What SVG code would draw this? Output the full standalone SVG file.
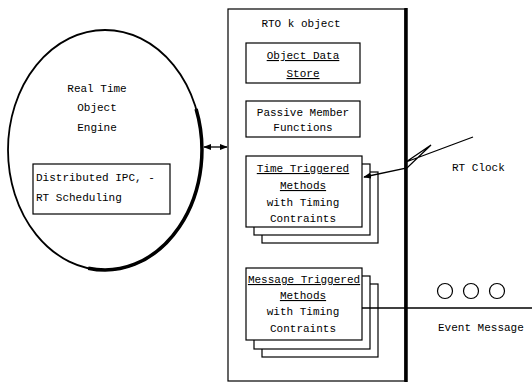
<svg xmlns="http://www.w3.org/2000/svg" width="532" height="382" viewBox="0 0 532 382">
<style>
.t{font-family:"Liberation Mono","DejaVu Sans Mono",monospace;font-size:11px;fill:#000}
.c{text-anchor:middle}
.u{text-decoration:underline}
.box{fill:#fff;stroke:#000;stroke-width:1.2}
.ln{fill:none;stroke:#000;stroke-width:1.3}
</style>
<defs>
<marker id="ah" viewBox="0 0 10 10" refX="9" refY="5" markerWidth="6" markerHeight="6" orient="auto-start-reverse">
<path d="M0,1 L10,5 L0,9 z" fill="#000"/>
</marker>
</defs>
<rect width="532" height="382" fill="#fff"/>

<g id="engine">
<ellipse cx="105" cy="150" rx="97" ry="120" fill="#fff" stroke="#000" stroke-width="1.8"/>
<path d="M196.1,109 A97,120 0 0 1 88.2,268.2" fill="none" stroke="#000" stroke-width="3.5"/>
<text class="t c" x="97" y="92" font-size="12">Real Time</text>
<text class="t c" x="97" y="111" font-size="12">Object</text>
<text class="t c" x="97" y="131" font-size="12">Engine</text>
</g>

<g id="ipc">
<rect class="box" x="33" y="164" width="137" height="50"/>
<text class="t" x="36" y="181" font-size="10.5">Distributed IPC, -</text>
<text class="t" x="36" y="201" font-size="10.5">RT Scheduling</text>
</g>

<g id="rtok">
<rect x="228" y="9" width="177" height="372" fill="none" stroke="#000" stroke-width="1.2"/>
<line x1="406" y1="8" x2="406" y2="382" stroke="#000" stroke-width="3.5"/>
<text class="t c" x="301" y="27">RTO k object</text>
</g>

<g id="datastore">
<rect class="box" x="246" y="43" width="114" height="40"/>
<text class="t c u" x="303" y="59">Object Data</text>
<text class="t c u" x="303" y="77">Store</text>
</g>

<g id="passive">
<rect class="box" x="246" y="101" width="114" height="36"/>
<text class="t c" x="303" y="116">Passive Member</text>
<text class="t c" x="303" y="131">Functions</text>
</g>

<g id="time-triggered">
<rect class="box" x="262" y="172" width="116" height="71"/>
<rect class="box" x="254" y="164" width="116" height="71"/>
<rect class="box" x="246" y="156" width="116" height="71"/>
<text class="t c u" x="303" y="172">Time Triggered</text>
<text class="t c u" x="303" y="189">Methods</text>
<text class="t c" x="303" y="206">with Timing</text>
<text class="t c" x="303" y="222">Contraints</text>
</g>

<g id="message-triggered">
<rect class="box" x="262" y="284" width="116" height="73"/>
<rect class="box" x="254" y="276" width="116" height="73"/>
<rect class="box" x="246" y="268" width="116" height="72"/>
<text class="t c u" x="304" y="283" font-size="10.5">Message Triggered</text>
<text class="t c u" x="303" y="299">Methods</text>
<text class="t c" x="303" y="315">with Timing</text>
<text class="t c" x="303" y="332">Contraints</text>
</g>

<g id="rt-clock">
<text class="t" x="452" y="171">RT Clock</text>
</g>

<g id="event-message">
<circle cx="445" cy="291" r="7.5" fill="#fff" stroke="#000" stroke-width="1.2"/>
<circle cx="471" cy="291" r="7.5" fill="#fff" stroke="#000" stroke-width="1.2"/>
<circle cx="497" cy="291" r="7.5" fill="#fff" stroke="#000" stroke-width="1.2"/>
<text class="t" x="438" y="331">Event Message</text>
</g>

<g id="connectors">
<line class="ln" x1="204" y1="147" x2="227" y2="147" marker-start="url(#ah)" marker-end="url(#ah)"/>
<path class="ln" d="M473,137 L406,162 L431,145 L407,168 L364,177" marker-end="url(#ah)"/>
<line class="ln" x1="362" y1="308" x2="532" y2="308"/>
</g>
</svg>
